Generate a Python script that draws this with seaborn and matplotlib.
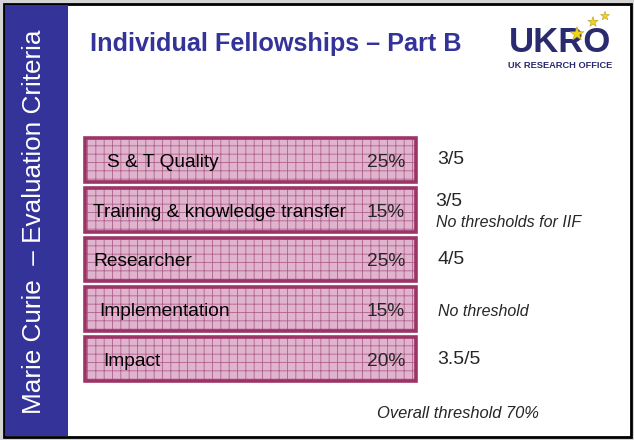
import matplotlib
matplotlib.use("Agg")
import matplotlib.pyplot as plt
from matplotlib.patches import Rectangle
from matplotlib.transforms import blended_transform_factory
import seaborn as sns
import pandas as pd

sns.set_theme(style="white")
plt.rcParams['font.family'] = ['Liberation Sans', 'DejaVu Sans']
plt.rcParams['hatch.linewidth'] = 0.6

# slide content
criteria = ["S & T Quality", "Training & knowledge transfer", "Researcher",
            "Implementation", "Impact"]
weights = ["25%", "15%", "25%", "15%", "20%"]
thresholds = ["3/5", "3/5", "4/5", "", "3.5/5"]
notes = ["", "No thresholds for IIF", "", "No threshold", ""]
span = [1, 1, 1, 1, 1]   # every criterion box is drawn full width

df = pd.DataFrame({"criterion": criteria, "span": span})

# layout (pixels)
label_indent = [22, 8, 8, 14, 18]

navy = "#333399"
rose_edge = "#9c3468"
rose_hatch = "#b0608e"
rose_fill = "#e0b4cd"

fig = plt.figure(figsize=(6.34, 4.40), dpi=100)
fig.patch.set_facecolor("#d4d4d4")

bg = fig.add_axes([0, 0, 1, 1])
bg.set_xlim(0, 634)
bg.set_ylim(440, 0)
bg.axis("off")
bg.add_patch(Rectangle((4, 4), 627, 433, facecolor="white", edgecolor="black", lw=2))
bg.add_patch(Rectangle((5, 5), 63, 431, facecolor=navy, edgecolor="none"))

bg.text(34, 222, "Marie Curie  \u2013 Evaluation Criteria", rotation=90, color="white",
        fontsize=18.8, ha="center", va="center")
bg.text(90, 44, "Individual Fellowships \u2013 Part B", color=navy, fontsize=18.2,
        fontweight="bold", ha="left", va="center")

# logo
bg.text(560, 42, "UKRO", color="#2a2a6e", fontsize=25, fontweight="bold",
        ha="center", va="center")
bg.text(560, 65, "UK RESEARCH OFFICE", color="#2a2a6e", fontsize=6.7,
        fontweight="bold", ha="center", va="center")
bg.scatter([577, 593, 605], [34, 22, 16], marker="*", s=[110, 60, 45],
           color="#f2d21a", edgecolor="#b8a020", linewidth=0.4, zorder=5)

bg.text(377, 414, "Overall threshold 70%", fontsize=11.9, style="italic",
        ha="left", va="center")

# criteria boxes
left, right, top, bottom = 85, 416, 135, 384
ax = fig.add_axes([left / 634, 1 - bottom / 440, (right - left) / 634, (bottom - top) / 440])
sns.barplot(data=df, x="span", y="criterion", orient="h", width=0.88,
            color=rose_fill, edgecolor=rose_hatch, linewidth=0, hatch="++",
            saturation=1, ax=ax)
for p in list(ax.patches):
    p.set_clip_on(False)
    ax.add_patch(Rectangle(p.get_xy(), p.get_width(), p.get_height(), fill=False,
                           edgecolor=rose_edge, lw=2.6, clip_on=False))
ax.set_xlim(0, 1)
ax.set_ylim(len(criteria) - 0.5, -0.5)
ax.axis("off")

px = blended_transform_factory(bg.transData, ax.transData)
for i, (name, w, th, nt) in enumerate(zip(criteria, weights, thresholds, notes)):
    ax.text(left + label_indent[i], i + 0.05, name, transform=px, fontsize=13.8,
            ha="left", va="center", color="black")
    ax.text(405, i + 0.05, w, transform=px, fontsize=13.8, ha="right", va="center")
    if th and nt:
        ax.text(435, i - 0.17, th, transform=px, fontsize=14, ha="left", va="center")
        ax.text(436, i + 0.25, nt, transform=px, fontsize=11.5, style="italic",
                ha="left", va="center")
    elif th:
        ax.text(437, i, th, transform=px, fontsize=14, ha="left", va="center")
    else:
        ax.text(438, i + 0.04, nt, transform=px, fontsize=11.5, style="italic",
                ha="left", va="center")

fig.savefig("out.png", dpi=100, facecolor=fig.get_facecolor())
